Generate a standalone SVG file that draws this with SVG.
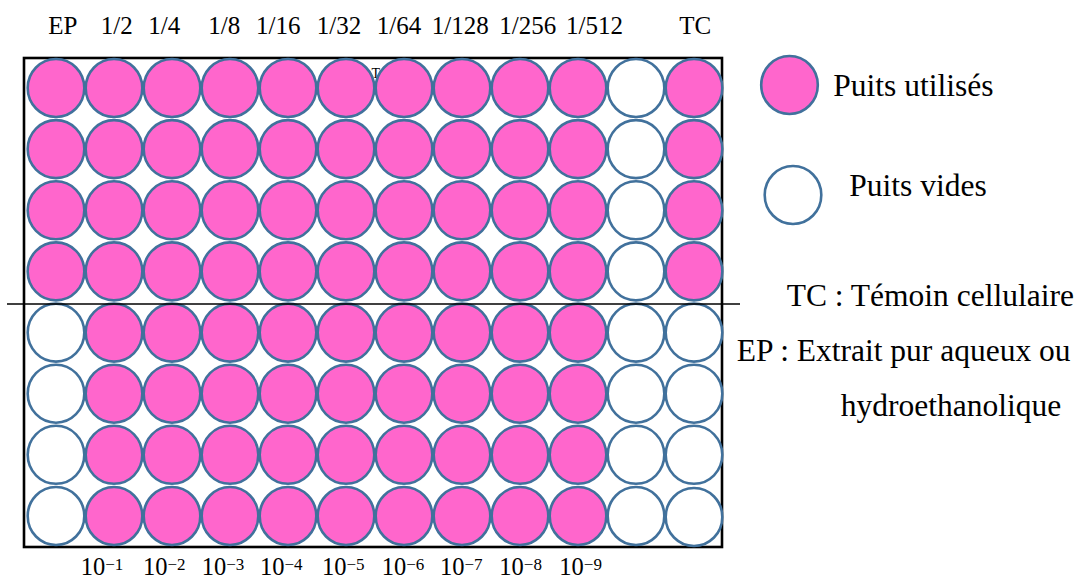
<svg xmlns="http://www.w3.org/2000/svg" xmlns:xlink="http://www.w3.org/1999/xlink" width="1079" height="581" viewBox="0 0 1079 581">
  <style>
    .used { fill: #FF66CC; stroke: #41719C; stroke-width: 2.6; }
    .empty { fill: #FFFFFF; stroke: #41719C; stroke-width: 2.6; }
    .frame { fill: none; stroke: #000; stroke-width: 2.6; }
    .divider { stroke: #000; stroke-width: 1.4; }
  </style>
  <defs>
    <ellipse id="well" cx="0" cy="0" rx="28.3" ry="29"/>
  </defs>

  <rect width="1079" height="581" fill="#FFFFFF"/>

  <!-- column headers: dilutions -->
  <g id="col-headers" font-family="Liberation Serif, serif" font-size="25" fill="#000">
    <text x="48.3" y="34">EP</text>
    <text x="100.7" y="34">1/2</text>
    <text x="148.3" y="34">1/4</text>
    <text x="208.3" y="34">1/8</text>
    <text x="256" y="34">1/16</text>
    <text x="316.7" y="34">1/32</text>
    <text x="376.7" y="34">1/64</text>
    <text x="431.7" y="34">1/128</text>
    <text x="499.3" y="34">1/256</text>
    <text x="566" y="34">1/512</text>
    <text x="679.3" y="34">TC</text>
  </g>

  <!-- plate outline -->
  <g id="plate">
    <rect class="frame" x="24" y="58" width="698" height="489"/>
    <text x="371.5" y="78" font-family="Liberation Serif, serif" font-size="14" fill="#000">T</text>
  </g>

  <!-- wells: rows 1-4 (top half) -->
  <g id="row-1">
    <use xlink:href="#well" class="used" x="56" y="88"/>
    <use xlink:href="#well" class="used" x="114" y="88"/>
    <use xlink:href="#well" class="used" x="172" y="88"/>
    <use xlink:href="#well" class="used" x="230" y="88"/>
    <use xlink:href="#well" class="used" x="288" y="88"/>
    <use xlink:href="#well" class="used" x="346" y="88"/>
    <use xlink:href="#well" class="used" x="404" y="88"/>
    <use xlink:href="#well" class="used" x="462" y="88"/>
    <use xlink:href="#well" class="used" x="520" y="88"/>
    <use xlink:href="#well" class="used" x="578" y="88"/>
    <use xlink:href="#well" class="empty" x="636" y="88"/>
    <use xlink:href="#well" class="used" x="694" y="88"/>
  </g>
  <g id="row-2">
    <use xlink:href="#well" class="used" x="56" y="149.1"/>
    <use xlink:href="#well" class="used" x="114" y="149.1"/>
    <use xlink:href="#well" class="used" x="172" y="149.1"/>
    <use xlink:href="#well" class="used" x="230" y="149.1"/>
    <use xlink:href="#well" class="used" x="288" y="149.1"/>
    <use xlink:href="#well" class="used" x="346" y="149.1"/>
    <use xlink:href="#well" class="used" x="404" y="149.1"/>
    <use xlink:href="#well" class="used" x="462" y="149.1"/>
    <use xlink:href="#well" class="used" x="520" y="149.1"/>
    <use xlink:href="#well" class="used" x="578" y="149.1"/>
    <use xlink:href="#well" class="empty" x="636" y="149.1"/>
    <use xlink:href="#well" class="used" x="694" y="149.1"/>
  </g>
  <g id="row-3">
    <use xlink:href="#well" class="used" x="56" y="210.3"/>
    <use xlink:href="#well" class="used" x="114" y="210.3"/>
    <use xlink:href="#well" class="used" x="172" y="210.3"/>
    <use xlink:href="#well" class="used" x="230" y="210.3"/>
    <use xlink:href="#well" class="used" x="288" y="210.3"/>
    <use xlink:href="#well" class="used" x="346" y="210.3"/>
    <use xlink:href="#well" class="used" x="404" y="210.3"/>
    <use xlink:href="#well" class="used" x="462" y="210.3"/>
    <use xlink:href="#well" class="used" x="520" y="210.3"/>
    <use xlink:href="#well" class="used" x="578" y="210.3"/>
    <use xlink:href="#well" class="empty" x="636" y="210.3"/>
    <use xlink:href="#well" class="used" x="694" y="210.3"/>
  </g>
  <g id="row-4">
    <use xlink:href="#well" class="used" x="56" y="271.4"/>
    <use xlink:href="#well" class="used" x="114" y="271.4"/>
    <use xlink:href="#well" class="used" x="172" y="271.4"/>
    <use xlink:href="#well" class="used" x="230" y="271.4"/>
    <use xlink:href="#well" class="used" x="288" y="271.4"/>
    <use xlink:href="#well" class="used" x="346" y="271.4"/>
    <use xlink:href="#well" class="used" x="404" y="271.4"/>
    <use xlink:href="#well" class="used" x="462" y="271.4"/>
    <use xlink:href="#well" class="used" x="520" y="271.4"/>
    <use xlink:href="#well" class="used" x="578" y="271.4"/>
    <use xlink:href="#well" class="empty" x="636" y="271.4"/>
    <use xlink:href="#well" class="used" x="694" y="271.4"/>
  </g>

  <!-- wells: rows 5-8 (bottom half) -->
  <g id="row-5">
    <use xlink:href="#well" class="empty" x="56" y="332.6"/>
    <use xlink:href="#well" class="used" x="114" y="332.6"/>
    <use xlink:href="#well" class="used" x="172" y="332.6"/>
    <use xlink:href="#well" class="used" x="230" y="332.6"/>
    <use xlink:href="#well" class="used" x="288" y="332.6"/>
    <use xlink:href="#well" class="used" x="346" y="332.6"/>
    <use xlink:href="#well" class="used" x="404" y="332.6"/>
    <use xlink:href="#well" class="used" x="462" y="332.6"/>
    <use xlink:href="#well" class="used" x="520" y="332.6"/>
    <use xlink:href="#well" class="used" x="578" y="332.6"/>
    <use xlink:href="#well" class="empty" x="636" y="332.6"/>
    <use xlink:href="#well" class="empty" x="694" y="332.6"/>
  </g>
  <g id="row-6">
    <use xlink:href="#well" class="empty" x="56" y="393.7"/>
    <use xlink:href="#well" class="used" x="114" y="393.7"/>
    <use xlink:href="#well" class="used" x="172" y="393.7"/>
    <use xlink:href="#well" class="used" x="230" y="393.7"/>
    <use xlink:href="#well" class="used" x="288" y="393.7"/>
    <use xlink:href="#well" class="used" x="346" y="393.7"/>
    <use xlink:href="#well" class="used" x="404" y="393.7"/>
    <use xlink:href="#well" class="used" x="462" y="393.7"/>
    <use xlink:href="#well" class="used" x="520" y="393.7"/>
    <use xlink:href="#well" class="used" x="578" y="393.7"/>
    <use xlink:href="#well" class="empty" x="636" y="393.7"/>
    <use xlink:href="#well" class="empty" x="694" y="393.7"/>
  </g>
  <g id="row-7">
    <use xlink:href="#well" class="empty" x="56" y="454.8"/>
    <use xlink:href="#well" class="used" x="114" y="454.8"/>
    <use xlink:href="#well" class="used" x="172" y="454.8"/>
    <use xlink:href="#well" class="used" x="230" y="454.8"/>
    <use xlink:href="#well" class="used" x="288" y="454.8"/>
    <use xlink:href="#well" class="used" x="346" y="454.8"/>
    <use xlink:href="#well" class="used" x="404" y="454.8"/>
    <use xlink:href="#well" class="used" x="462" y="454.8"/>
    <use xlink:href="#well" class="used" x="520" y="454.8"/>
    <use xlink:href="#well" class="used" x="578" y="454.8"/>
    <use xlink:href="#well" class="empty" x="636" y="454.8"/>
    <use xlink:href="#well" class="empty" x="694" y="454.8"/>
  </g>
  <g id="row-8">
    <use xlink:href="#well" class="empty" x="56" y="516"/>
    <use xlink:href="#well" class="used" x="114" y="516"/>
    <use xlink:href="#well" class="used" x="172" y="516"/>
    <use xlink:href="#well" class="used" x="230" y="516"/>
    <use xlink:href="#well" class="used" x="288" y="516"/>
    <use xlink:href="#well" class="used" x="346" y="516"/>
    <use xlink:href="#well" class="used" x="404" y="516"/>
    <use xlink:href="#well" class="used" x="462" y="516"/>
    <use xlink:href="#well" class="used" x="520" y="516"/>
    <use xlink:href="#well" class="used" x="578" y="516"/>
    <use xlink:href="#well" class="empty" x="636" y="516"/>
    <use xlink:href="#well" class="empty" x="694" y="517"/>
  </g>

  <!-- separator between the two halves of the plate -->
  <g id="connectors">
    <line class="divider" x1="7" y1="304" x2="740" y2="304"/>
  </g>

  <!-- column footers: virus dilutions -->
  <g id="col-footers" font-family="Liberation Serif, serif" font-size="24.5" fill="#000">
    <text x="80.7" y="575">10<tspan font-size="17" dy="-5.5">−1</tspan></text>
    <text x="143" y="575">10<tspan font-size="17" dy="-5.5">−2</tspan></text>
    <text x="201.7" y="575">10<tspan font-size="17" dy="-5.5">−3</tspan></text>
    <text x="260" y="575">10<tspan font-size="17" dy="-5.5">−4</tspan></text>
    <text x="322" y="575">10<tspan font-size="17" dy="-5.5">−5</tspan></text>
    <text x="381.7" y="575">10<tspan font-size="17" dy="-5.5">−6</tspan></text>
    <text x="440" y="575">10<tspan font-size="17" dy="-5.5">−7</tspan></text>
    <text x="499.3" y="575">10<tspan font-size="17" dy="-5.5">−8</tspan></text>
    <text x="559.3" y="575">10<tspan font-size="17" dy="-5.5">−9</tspan></text>
  </g>

  <!-- legend -->
  <g id="legend-used">
    <use xlink:href="#well" class="used" x="789.5" y="85"/>
    <text x="833.3" y="96" font-family="Liberation Serif, serif" font-size="31.5" fill="#000">Puits utilisés</text>
  </g>
  <g id="legend-empty">
    <use xlink:href="#well" class="empty" x="793" y="195"/>
    <text x="849.3" y="196" font-family="Liberation Serif, serif" font-size="31.5" fill="#000">Puits vides</text>
  </g>
  <g id="legend-tc">
    <text x="786.7" y="306" font-family="Liberation Serif, serif" font-size="31.5" fill="#000">TC : Témoin cellulaire</text>
  </g>
  <g id="legend-ep">
    <text x="736.7" y="361" font-family="Liberation Serif, serif" font-size="31.5" fill="#000">EP : Extrait pur aqueux ou</text>
    <text x="840.7" y="416" font-family="Liberation Serif, serif" font-size="31.5" fill="#000">hydroethanolique</text>
  </g>
</svg>
